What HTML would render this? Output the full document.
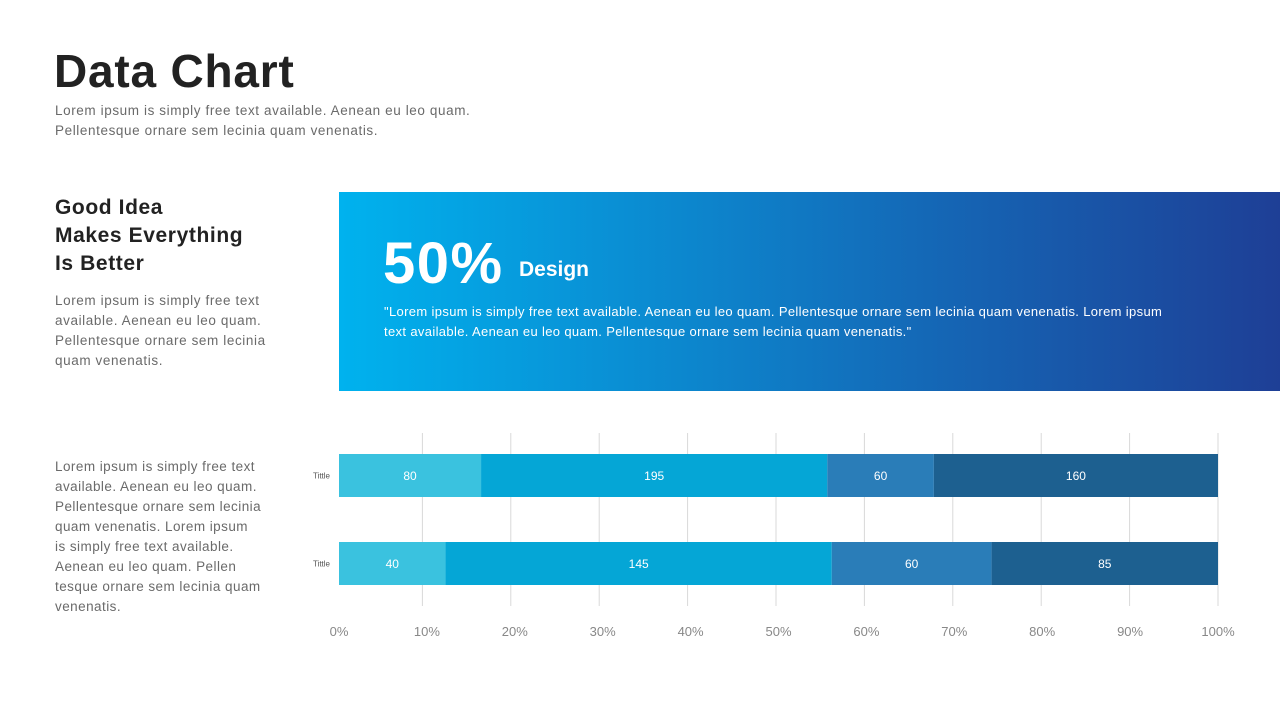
<!DOCTYPE html>
<html><head><meta charset="utf-8"><style>
body{margin:0;width:1280px;height:720px;background:#fff;font-family:"Liberation Sans",sans-serif;position:relative;overflow:hidden}
.abs{position:absolute}
.p{color:#6a6a6a;font-size:13.5px;line-height:20px;letter-spacing:0.6px}
</style></head><body>
<div class="abs" style="left:54px;top:44px;font-size:46px;font-weight:bold;color:#222;letter-spacing:0.8px">Data Chart</div>
<div class="abs p" style="left:55px;top:101px;width:460px">Lorem ipsum is simply free text available. Aenean eu leo quam. Pellentesque ornare sem lecinia quam venenatis.</div>
<div class="abs" style="left:55px;top:194px;font-size:21px;font-weight:bold;color:#222;line-height:28px;letter-spacing:0.6px">Good Idea<br>Makes Everything<br>Is Better</div>
<div class="abs p" style="left:55px;top:291px;width:220px">Lorem ipsum is simply free text available. Aenean eu leo quam. Pellentesque ornare sem lecinia quam venenatis.</div>
<div class="abs p" style="left:55px;top:457px;width:220px;letter-spacing:0.45px">Lorem ipsum is simply free text available. Aenean eu leo quam. Pellentesque ornare sem lecinia quam venenatis. Lorem ipsum<br>is simply free text available. Aenean eu leo quam. Pellen tesque ornare sem lecinia quam venenatis.</div>
<div class="abs" style="left:339px;top:192px;width:941px;height:199px;background:linear-gradient(90deg,#00b2ee 0%,#0a8fd4 30%,#1565b4 65%,#1e3f96 100%)">
  <div class="abs" style="left:44px;top:38px;color:#fff;font-size:58px;font-weight:bold;letter-spacing:1.5px">50%</div>
  <div class="abs" style="left:180px;top:66px;color:#fff;font-size:21px;font-weight:bold">Design</div>
  <div class="abs" style="left:45px;top:110px;width:860px;color:#fff;font-size:13px;line-height:20px;letter-spacing:0.35px">"Lorem ipsum is simply free text available. Aenean eu leo quam. Pellentesque ornare sem lecinia quam venenatis. Lorem ipsum<br>text available. Aenean eu leo quam. Pellentesque ornare sem lecinia quam venenatis."</div>
</div>
<svg class="abs" style="left:0;top:0" width="1280" height="720" id="chart"></svg>
<script>
const categories=["Tittle","Tittle"];
const seriesA=[80,40];
const seriesB=[195,145];
const seriesC=[60,60];
const seriesD=[160,85];
const tickLabels=["0%","10%","20%","30%","40%","50%","60%","70%","80%","90%","100%"];
const tickValues=[0,10,20,30,40,50,60,70,80,90,100];
const colors=["#3ac2df","#05a6d6","#2a7db8","#1d6090"];
const svg=document.getElementById('chart');
const NS="http://www.w3.org/2000/svg";
const x0=339,x1=1218;
function xs(p){return x0+(x1-x0)*p/100;}
function xg(p){return 334+(x1-334)*p/100;}
const rowY=[454,542],barH=43;
function mk(t,a){const e=document.createElementNS(NS,t);for(const k in a)e.setAttribute(k,a[k]);svg.appendChild(e);return e;}
tickValues.forEach((v,i)=>{
  if(v>0){const g=mk('line',{x1:xg(v),x2:xg(v),y1:433,y2:606,stroke:'#d9d9d9','stroke-width':1});
  
  }
  const t=mk('text',{x:xs(v),y:636,'text-anchor':'middle','font-size':13,fill:'#888','font-family':'Liberation Sans, sans-serif'});
  t.textContent=tickLabels[i];
  
  
});
const series=[seriesA,seriesB,seriesC,seriesD];
categories.forEach((c,r)=>{
  const total=series.reduce((s,a)=>s+a[r],0);
  let acc=0;
  const y=rowY[r];
  const lb=mk('text',{x:330,y:y+barH/2+3,'text-anchor':'end','font-size':8,fill:'#555','font-family':'Liberation Sans, sans-serif'});
  lb.textContent=c;
  
  
  series.forEach((s,k)=>{
    const a=xs(acc/total*100),b=xs((acc+s[r])/total*100);
    const rc=mk('rect',{x:a,y:y,width:b-a,height:barH,fill:colors[k]});
    
    
    const t=mk('text',{x:(a+b)/2,y:y+barH/2+4.5,'text-anchor':'middle','font-size':12,fill:'#fff','font-family':'Liberation Sans, sans-serif'});
    t.textContent=s[r];
    
    
    acc+=s[r];
  });
});
</script>
</body></html>
